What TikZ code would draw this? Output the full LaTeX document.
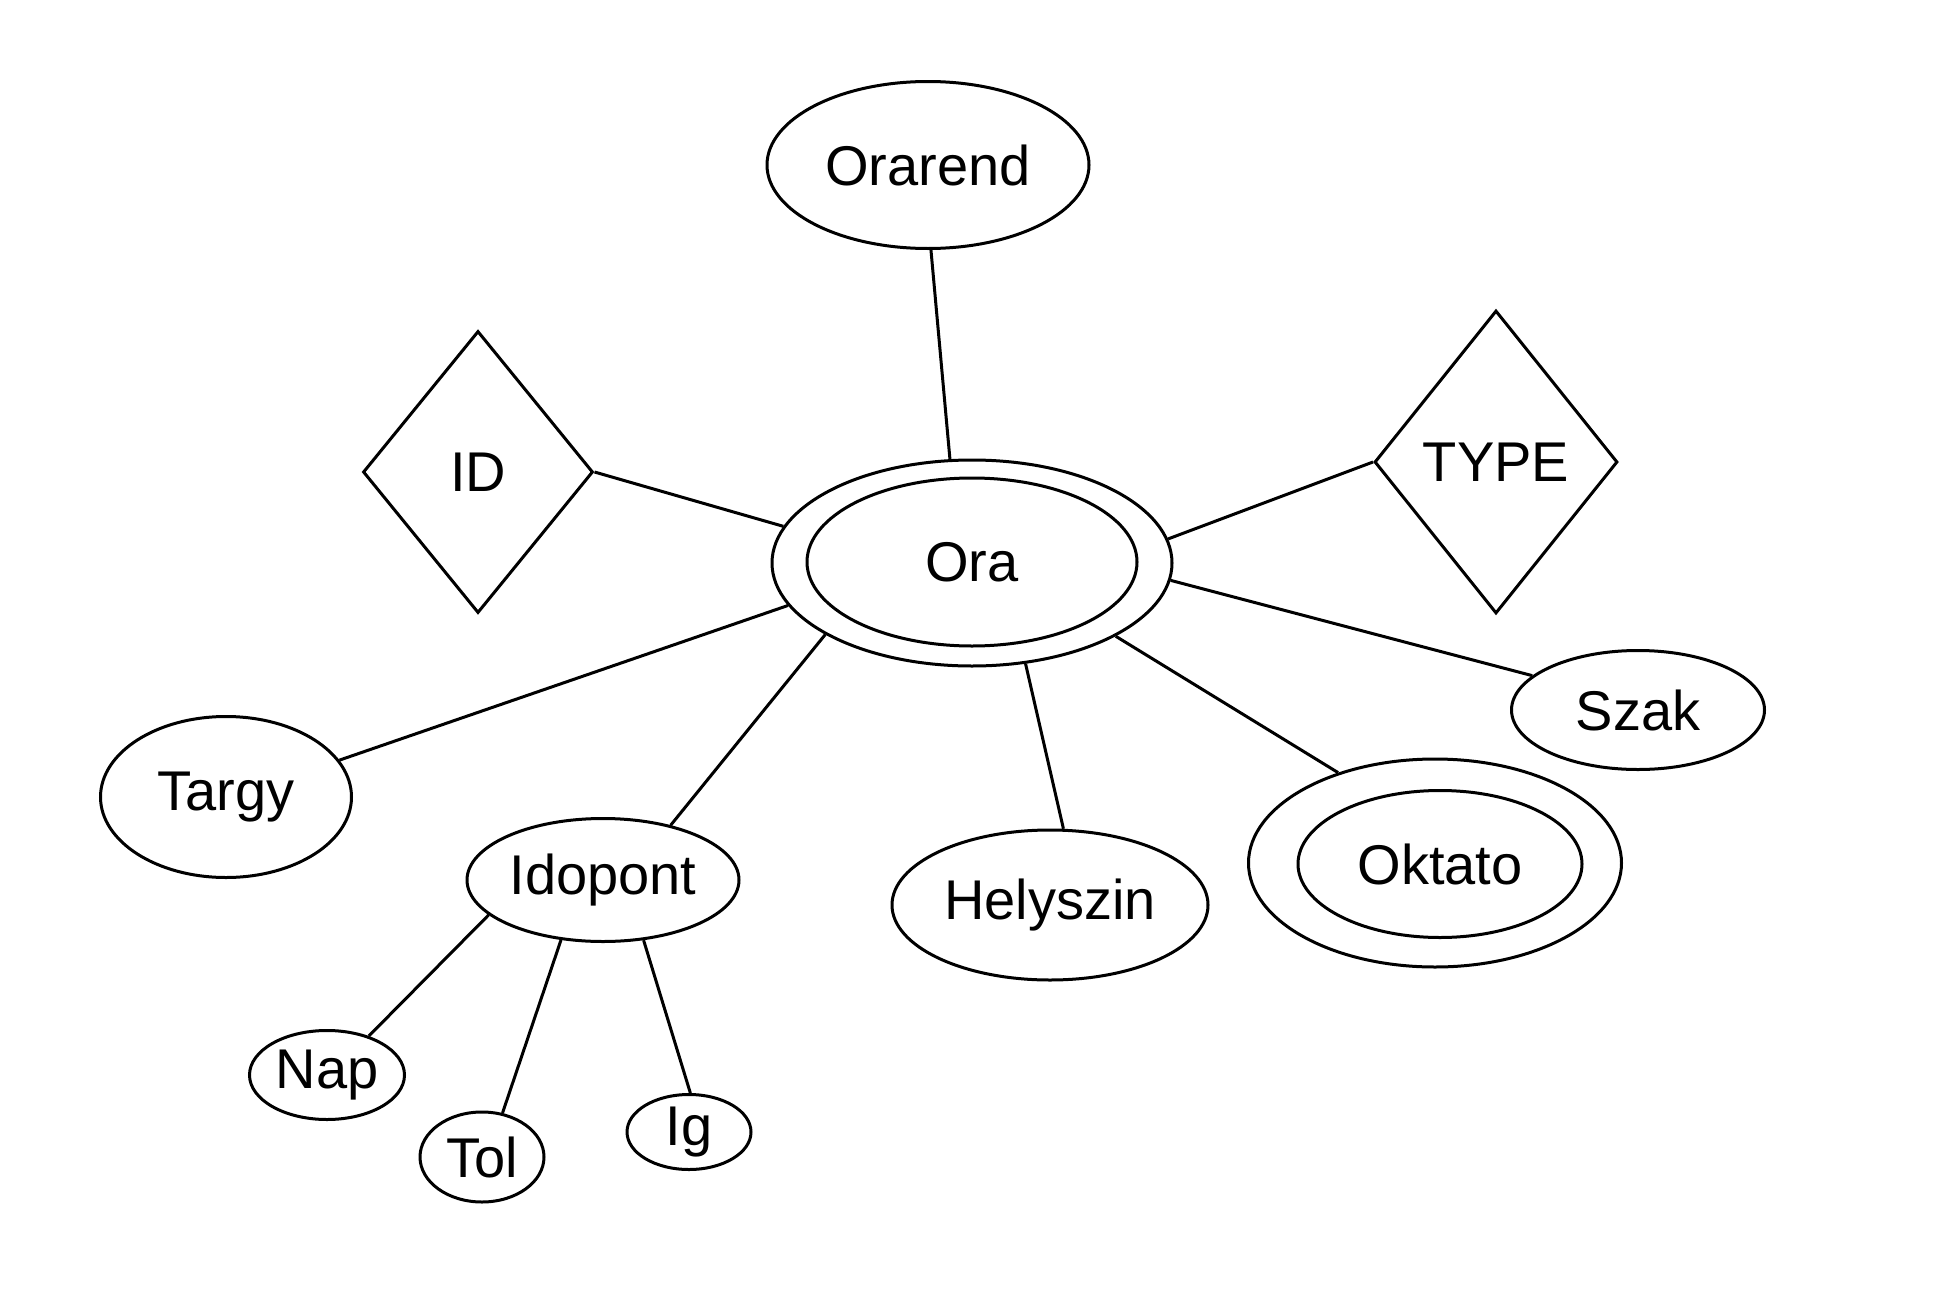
\documentclass[tikz,border=0pt]{standalone}
\usepackage{fontspec}
\setmainfont{Liberation Sans}
\usetikzlibrary{shapes.geometric}
\begin{document}
\begin{tikzpicture}[
      x=0.5pt, y=-0.5pt,
      vonal/.style={line width=1.5pt, draw=black},
      tul/.style={ellipse, draw=black, line width=1.5pt, inner sep=0pt,
        font=\fontsize{28}{34}\selectfont},
      rombusz/.style={diamond, draw=black, line width=1.5pt, inner sep=0pt,
        font=\fontsize{28}{34}\selectfont}
    ]
    \useasboundingbox (0,0) rectangle (1934,1290);
    \path (928,165) node(orarend) [tul, minimum width=161pt, minimum height=83.5pt] {Orarend}
    (972,563) node(oraki) [tul, minimum width=200pt, minimum height=103pt] {}
    (972,562) node(ora) [tul, minimum width=165pt, minimum height=84pt] {Ora}
    (478,472) node(id) [rombusz, minimum width=115pt, minimum height=141pt] {ID}
    (1496,462) node(type) [rombusz, minimum width=121.5pt, minimum height=151.5pt] {TYPE}
    (226,797) node(targy) [tul, minimum width=125.5pt, minimum height=80.5pt] {Targy}
    (603,880) node(idopont) [tul, minimum width=136pt, minimum height=61.5pt] {Idopont}
    (1050,905) node(helyszin) [tul, minimum width=158pt, minimum height=75pt] {Helyszin}
    (1435,863) node(oktatoki) [tul, minimum width=186.5pt, minimum height=104pt] {}
    (1440,864) node(oktato) [tul, minimum width=142pt, minimum height=73.5pt] {Oktato}
    (1638,710) node(szak) [tul, minimum width=126.5pt, minimum height=59.5pt] {Szak}
    (327,1075) node(nap) [tul, minimum width=77.5pt, minimum height=44.5pt] {Nap}
    (482,1157) node(tol) [tul, minimum width=62pt, minimum height=45pt] {Tol}
    (689,1132) node(ig) [tul, minimum width=62pt, minimum height=37.5pt] {Ig};
    \draw[vonal] (orarend.-88) -- (oraki.102.6);
    \draw[vonal] (id.east) -- (oraki.169.5);
    \draw[vonal] (type.west) -- (oraki.7.1);
    \draw[vonal] (szak.162.8) -- (oraki.-5.8);
    \draw[vonal] (oktatoki.137.7) -- (oraki.-27.7);
    \draw[vonal] (helyszin.80.2) -- (oraki.-62.5);
    \draw[vonal] (idopont.39.5) -- (oraki.-154.4);
    \draw[vonal] (targy.18) -- (oraki.-167.5);
    \draw[vonal] (nap.43.7) -- (idopont.-163.5);
    \draw[vonal] (tol.65) -- (idopont.-125.4);
    \draw[vonal] (ig.88.5) -- (idopont.-56.5);
  \end{tikzpicture}
\end{document}
